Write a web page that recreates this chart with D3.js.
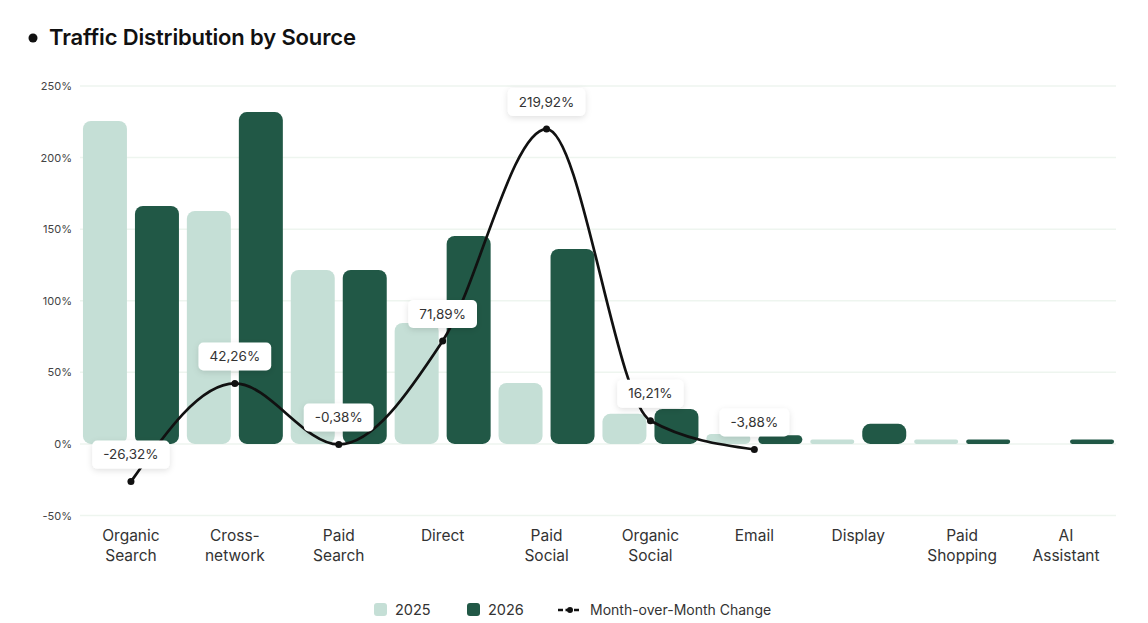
<!DOCTYPE html>
<html>
<head>
<meta charset="utf-8">
<script src="https://cdn.jsdelivr.net/npm/d3@7"></script>
<style>
  body { margin: 0; background: #ffffff; font-family: Inter, "Noto Sans", sans-serif; }
</style>
</head>
<body>
<div id="chart"></div>
<script>
// data
const categories = ["Organic Search", "Cross-network", "Paid Search", "Direct", "Paid Social",
    "Organic Social", "Email", "Display", "Paid Shopping", "AI Assistant"];
const labelLines = [["Organic", "Search"], ["Cross-", "network"], ["Paid", "Search"], ["Direct"],
    ["Paid", "Social"], ["Organic", "Social"], ["Email"], ["Display"], ["Paid", "Shopping"], ["AI", "Assistant"]];
const values2025 = [225.6, 162.7, 121.5, 84.5, 42.6, 21.0, 7.0, 3.0, 3.0, 0];
const values2026 = [166.2, 231.8, 121.5, 145.3, 136.2, 24.4, 6.0, 14.0, 3.0, 3.0];
const momChange = [-26.32, 42.26, -0.38, 71.89, 219.92, 16.21, -3.88];
const yTicks = [-50, 0, 50, 100, 150, 200, 250];
const years = ["2025", "2026"];

const LIGHT = "#c5dfd6";
const DARK = "#215846";
const W = 1148, H = 623;

var margin = { top: 86, right: 30, bottom: 107, left: 79 };

var svg = d3.select("#chart").append("svg")
    .attr("width", W)
    .attr("height", H);

// shadow for the value labels
var defs = svg.append("defs");
defs.append("filter")
    .attr("id", "shadow")
    .attr("x", "-30%").attr("y", "-40%")
    .attr("width", "160%").attr("height", "200%")
    .append("feDropShadow")
    .attr("dx", 0).attr("dy", 2)
    .attr("stdDeviation", 3)
    .attr("flood-color", "#000")
    .attr("flood-opacity", 0.12);

// title
svg.append("circle").attr("cx", 33).attr("cy", 38).attr("r", 4.5).attr("fill", "#111");
svg.append("text")
    .attr("x", 49).attr("y", 45)
    .attr("font-size", 22).attr("font-weight", 600)
    .attr("fill", "#111")
    .attr("letter-spacing", "-0.15")
    .text("Traffic Distribution by Source");

// scales
var x = d3.scaleBand()
    .domain(categories)
    .range([margin.left, W - margin.right]);
var bw = x.bandwidth();
var x1 = d3.scaleBand()
    .domain(years)
    .range([bw / 2 - 52, bw / 2 + 52])
    .paddingInner(0.154)
    .paddingOuter(0.077);
var y = d3.scaleLinear()
    .domain([-50, 250])
    .range([H - margin.bottom - 0.5, margin.top]);

// grid
svg.append("g")
    .selectAll("line")
    .data(yTicks)
    .enter()
    .append("line")
    .attr("x1", 80).attr("x2", 1116)
    .attr("y1", d => y(d)).attr("y2", d => y(d))
    .attr("stroke", "#eef5ef")
    .attr("stroke-width", 1.5);

// y axis
var yAxis = svg.append("g")
    .attr("transform", "translate(72,0)")
    .call(d3.axisLeft(y).tickValues(yTicks).tickSize(0).tickPadding(0).tickFormat(d => d + "%"));
yAxis.select(".domain").remove();
yAxis.selectAll("text")
    .attr("font-family", "Inter, sans-serif")
    .attr("font-size", 11)
    .attr("fill", "#444");

// bars
var groups = svg.append("g")
    .selectAll("g")
    .data(categories)
    .enter()
    .append("g")
    .attr("transform", d => "translate(" + x(d) + ",0)");

groups.each(function (cat, i) {
    var g = d3.select(this);
    var vals = [values2025[i], values2026[i]];
    vals.forEach((v, j) => {
        if (!v) return;
        // small bars sit on the zero line as thin pills
        var h = Math.max(y(0) - y(v), 4);
        var r = Math.min(8, h / 2);
        g.append("rect")
            .attr("x", x1(years[j]))
            .attr("y", y(0) - h)
            .attr("width", x1.bandwidth())
            .attr("height", h)
            .attr("rx", r).attr("ry", r)
            .attr("fill", j === 0 ? LIGHT : DARK);
    });
});

// x labels
var xl = svg.append("g");
categories.forEach((c, i) => {
    var t = xl.append("text")
        .attr("x", x(c) + bw / 2)
        .attr("y", 541)
        .attr("text-anchor", "middle")
        .attr("font-size", 15.5)
        .attr("fill", "#333");
    labelLines[i].forEach((ln, k) => {
        t.append("tspan")
            .attr("x", x(c) + bw / 2)
            .attr("dy", k === 0 ? 0 : 20)
            .text(ln);
    });
});

// month-over-month line
var linePts = momChange.map((v, i) => [x(categories[i]) + bw / 2, y(v)]);
svg.append("path")
    .attr("d", d3.line().curve(d3.curveMonotoneX)(linePts))
    .attr("fill", "none")
    .attr("stroke", "#111")
    .attr("stroke-width", 2.7);
svg.append("g")
    .selectAll("circle")
    .data(linePts)
    .enter()
    .append("circle")
    .attr("cx", d => d[0]).attr("cy", d => d[1])
    .attr("r", 3.5)
    .attr("fill", "#111");

// value labels
var fmt = v => v.toFixed(2).replace(".", ",") + "%";
var lab = svg.append("g")
    .selectAll("g")
    .data(momChange)
    .enter()
    .append("g")
    .attr("transform", (d, i) => "translate(" + linePts[i][0] + "," + (linePts[i][1] - 27) + ")");
lab.append("text")
    .attr("text-anchor", "middle")
    .attr("dy", "0.35em")
    .attr("font-size", 13.5)
    .attr("fill", "#333")
    .text(d => fmt(d));
lab.each(function () {
    var g = d3.select(this);
    var tw = g.select("text").node().getComputedTextLength();
    g.insert("rect", "text")
        .attr("x", -tw / 2 - 11)
        .attr("y", -14)
        .attr("width", tw + 22)
        .attr("height", 28)
        .attr("rx", 5)
        .attr("fill", "#fff")
        .attr("filter", "url(#shadow)");
});

// legend
var lg = svg.append("g").attr("font-size", 14.5).attr("fill", "#333");
lg.append("rect").attr("x", 374).attr("y", 603).attr("width", 13).attr("height", 13).attr("rx", 3).attr("fill", LIGHT);
lg.append("text").attr("x", 395).attr("y", 615).text("2025");
lg.append("rect").attr("x", 467).attr("y", 603).attr("width", 13).attr("height", 13).attr("rx", 3).attr("fill", DARK);
lg.append("text").attr("x", 488).attr("y", 615).text("2026");
lg.append("line").attr("x1", 558).attr("x2", 582).attr("y1", 610).attr("y2", 610)
    .attr("stroke", "#111").attr("stroke-width", 2.5).attr("stroke-dasharray", "5,2.5,6,2.5,5");
lg.append("circle").attr("cx", 570).attr("cy", 610).attr("r", 3).attr("fill", "#111");
lg.append("text").attr("x", 590).attr("y", 615).attr("font-size", 14).text("Month-over-Month Change");
</script>
</body>
</html>
